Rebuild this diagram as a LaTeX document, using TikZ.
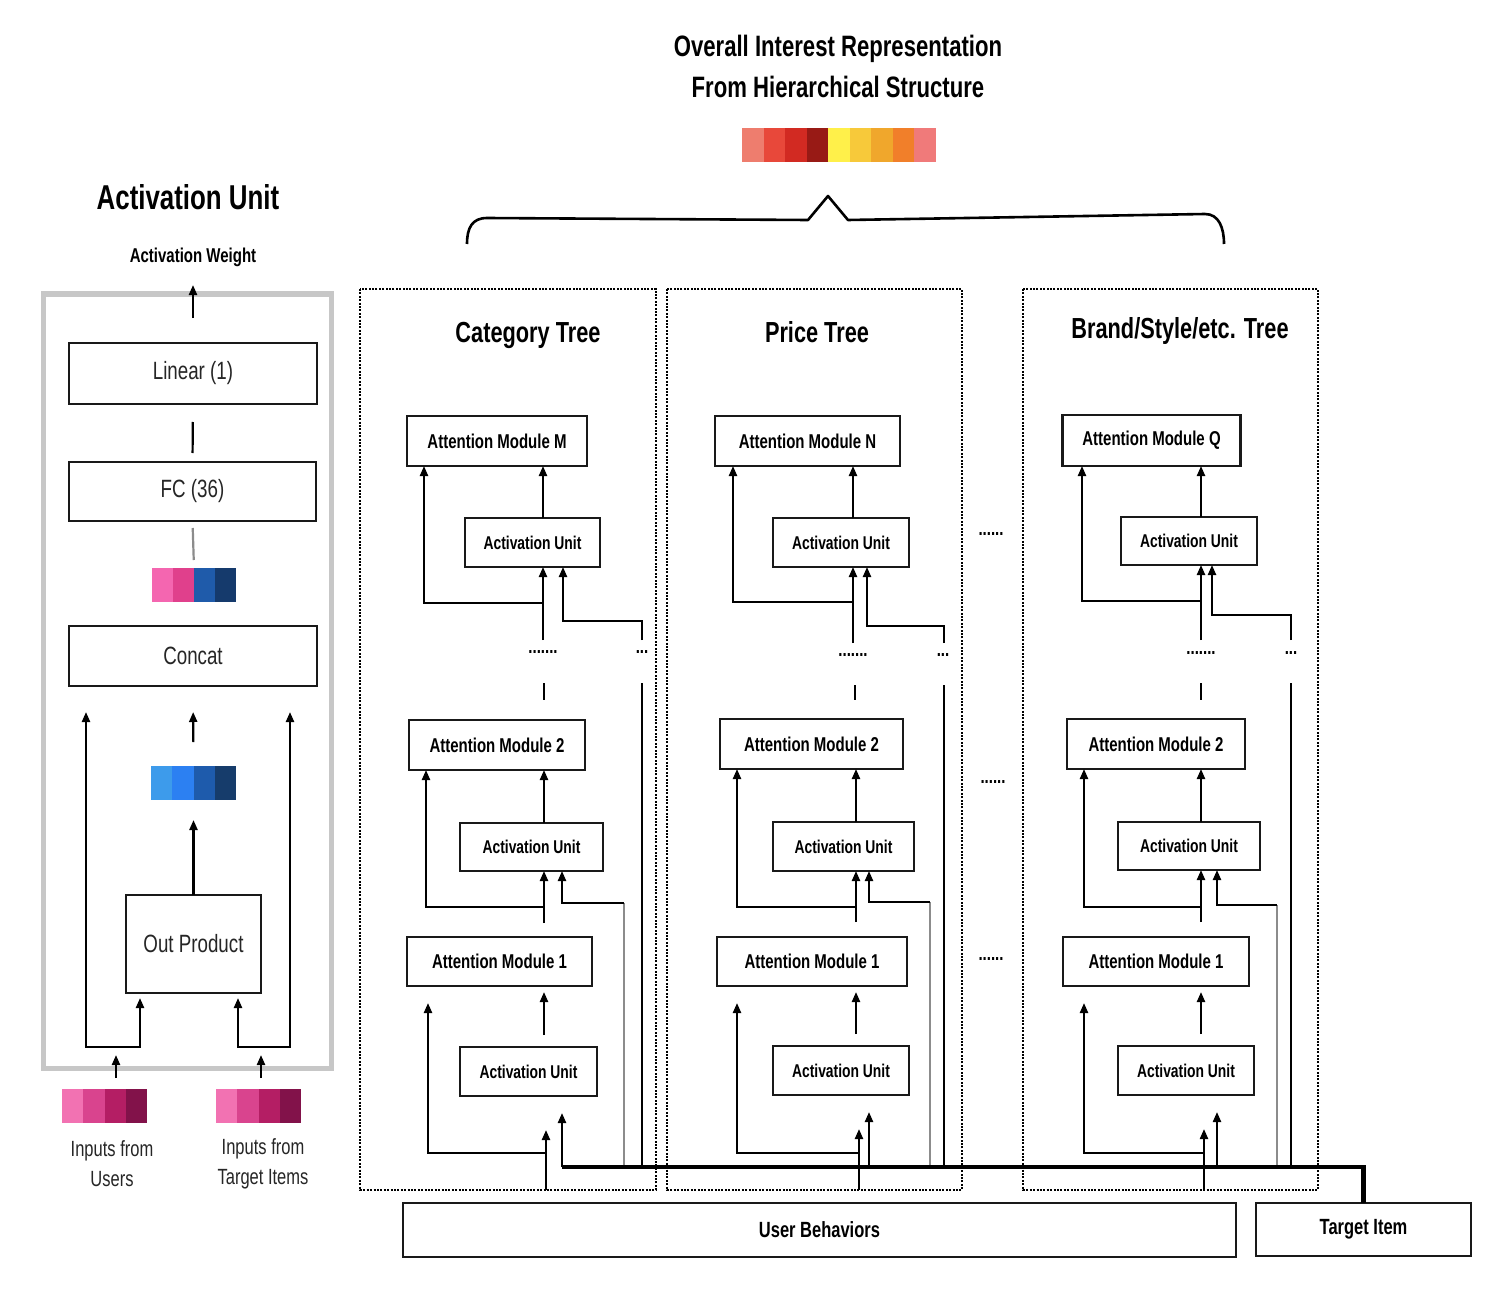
\documentclass[tikz,border=0pt]{standalone}
\usepackage{fontspec}
\setmainfont{Liberation Sans}[FakeStretch=0.75]
\usetikzlibrary{arrows.meta,calc}
\definecolor{t1}{HTML}{EE7D6E}
\definecolor{t2}{HTML}{E8483A}
\definecolor{t3}{HTML}{D22A22}
\definecolor{t4}{HTML}{981A15}
\definecolor{t5}{HTML}{FFF04A}
\definecolor{t6}{HTML}{F7C93A}
\definecolor{t7}{HTML}{F0A72C}
\definecolor{t8}{HTML}{F17F2A}
\definecolor{t9}{HTML}{F07A7A}
\definecolor{a1}{HTML}{F466B0}
\definecolor{a2}{HTML}{E0408C}
\definecolor{a3}{HTML}{1F5BAA}
\definecolor{a4}{HTML}{153A6C}
\definecolor{b1}{HTML}{3D9BEB}
\definecolor{b2}{HTML}{2C80F2}
\definecolor{b3}{HTML}{1E5BAC}
\definecolor{b4}{HTML}{163C6B}
\definecolor{p1}{HTML}{F272B2}
\definecolor{p2}{HTML}{D9448E}
\definecolor{p3}{HTML}{B41E64}
\definecolor{p4}{HTML}{82124A}
\begin{document}
\begin{tikzpicture}[x=1pt,y=-1pt,
  box/.style={draw=black!90, line width=2.6pt, inner sep=0pt, outer sep=0pt, fill=white},
  am/.style={box, font=\bfseries\fontsize{20}{23}\selectfont},
  au/.style={box, font=\bfseries\fontsize{18.5}{21}\selectfont},
  lbox/.style={box, font=\fontsize{25}{28}\selectfont, text=black!85},
  arr/.style={line width=2.2pt, -{Triangle[length=10pt,width=8pt]}},
  ln/.style={line width=2.2pt},
  gln/.style={line width=2.2pt, draw=black!45},
  bus/.style={line width=4.5pt, line join=miter},
  dotbox/.style={line width=2.6pt, dash pattern=on 2pt off 1.4pt},
  ttl/.style={font=\bfseries\fontsize{29}{33}\selectfont, anchor=base},
  dots/.style={font=\bfseries\fontsize{20}{22}\selectfont, inner sep=0pt},
  bar/.style={inner sep=0pt, outer sep=0pt, minimum height=34pt}
]
\fill[white] (0,0) rectangle (1508,1292);
\useasboundingbox (0,0) rectangle (1508,1292);

% ---------------- top ----------------
\node[align=center, font=\bfseries\fontsize{29.5}{41}\selectfont] (title) at (838,66) {Overall Interest Representation\\From Hierarchical Structure};
\node[bar, minimum width=194pt] (topbar) at (839,145) {};
\foreach \c [count=\i from 0] in {t1,t2,t3,t4,t5,t6,t7,t8,t9}
  \fill[\c] ({742+\i*21.55},128) rectangle ({742+(\i+1)*21.55},162);
\draw[line width=2.6pt, line join=round] (467,244) .. controls (467,228) and (472,218) .. (487,218) -- (808,220) -- (828,196) -- (848,220) -- (1205,214) .. controls (1219,214) and (1224,228) .. (1224,244);

% ---------------- left panel ----------------
\node[font=\bfseries\fontsize{34.5}{38}\selectfont, anchor=base] (autitle) at (188,210) {Activation Unit};
\node[font=\bfseries\fontsize{20}{23}\selectfont, anchor=base] (aw) at (193,263) {Activation Weight};
\node[draw=black!22, line width=5pt, minimum width=288pt, minimum height=774pt, inner sep=0pt] (panel) at (187,681) {};
\node[lbox, minimum width=248pt, minimum height=61pt] (lin) at (193,373.5) {Linear (1)};
\node[lbox, minimum width=247pt, minimum height=59pt] (fc) at (192.5,491.5) {FC (36)};
\node[lbox, minimum width=248pt, minimum height=60pt] (concat) at (193,656) {Concat};
\node[lbox, minimum width=135pt, minimum height=98pt] (op) at (193.5,944) {Out Product};

\node[bar, minimum width=84pt] (bar1) at (194,585) {};
\foreach \c [count=\i from 0] in {a1,a2,a3,a4}
  \fill[\c] ({152+\i*21},568) rectangle ({152+(\i+1)*21},602);
\node[bar, minimum width=85pt] (bar2) at (193.5,783) {};
\foreach \c [count=\i from 0] in {b1,b2,b3,b4}
  \fill[\c] ({151+\i*21.25},766) rectangle ({151+(\i+1)*21.25},800);
\node[bar, minimum width=85pt] (ubar) at (104.5,1106) {};
\foreach \c [count=\i from 0] in {p1,p2,p3,p4}
  \fill[\c] ({62+\i*21.25},1089) rectangle ({62+(\i+1)*21.25},1123);
\node[bar, minimum width=85pt] (tbar) at (258.5,1106) {};
\foreach \c [count=\i from 0] in {p1,p2,p3,p4}
  \fill[\c] ({216+\i*21.25},1089) rectangle ({216+(\i+1)*21.25},1123);

\node[align=center, font=\fontsize{22}{30}\selectfont, text=black!85] (ulab) at (112,1164) {Inputs from\\Users};
\node[align=center, font=\fontsize{22}{30}\selectfont, text=black!85] (tlab) at (263,1164) {Inputs from\\Target Items};

\coordinate (awtip) at (193,285);
\draw[arr, shorten <=25pt] (lin.north) -- (awtip);
\draw[ln, shorten <=9pt, shorten >=18pt] (fc.north) -- (lin.south);
\draw[gln, shorten <=7pt, shorten >=8pt] (fc.south) -- (bar1.north);
\draw[arr, shorten <=24pt, shorten >=26pt] (bar2.north) -- (concat.south);
\draw[arr, shorten >=20pt] (op.north) -- (bar2.south);
\coordinate (cl) at (86,712);
\coordinate (cr) at (290,712);
\coordinate (jl) at (140,1047);
\coordinate (jr) at (238,1047);
\draw[line width=2.2pt, {Triangle[length=10pt,width=8pt]}-{Triangle[length=10pt,width=8pt]}, shorten >=5pt] (cl) |- (jl) -- (op.south -| jl);
\draw[line width=2.2pt, {Triangle[length=10pt,width=8pt]}-{Triangle[length=10pt,width=8pt]}, shorten >=5pt] (cr) |- (jr) -- (op.south -| jr);
\coordinate (uin) at (116,1055);
\coordinate (tin) at (261,1055);
\draw[arr, shorten <=11pt] (ubar.north -| uin) -- (uin);
\draw[arr, shorten <=11pt] (tbar.north -| tin) -- (tin);

% ---------------- dotted tree frames ----------------
\draw[dotbox] (360,289) rectangle (656,1190);
\draw[dotbox] (667,289) rectangle (962,1190);
\draw[dotbox] (1023,289) rectangle (1318,1190);
\node[ttl] (c-title) at (528,342) {Category Tree};
\node[ttl] (p-title) at (817,342) {Price Tree};
\node[ttl] (b-title) at (1180,338) {Brand/Style/etc. Tree};

% ---------------- bottom boxes ----------------
\node[box, font=\bfseries\fontsize{22}{25}\selectfont, minimum width=833pt, minimum height=54pt] (ub) at (819.5,1230) {User Behaviors};
\node[box, font=\bfseries\fontsize{22}{25}\selectfont, minimum width=215pt, minimum height=53pt] (ti) at (1363.5,1229.5) {Target Item};

% ---------------- Category tree ----------------
\node[am, minimum width=180pt, minimum height=50pt] (c-amT) at (497,441) {Attention Module M};
\node[au, minimum width=135pt, minimum height=49pt] (c-auT) at (532.5,542.5) {Activation Unit};
\node[am, minimum width=176pt, minimum height=50pt] (c-am2) at (497,745) {Attention Module 2};
\node[au, minimum width=143pt, minimum height=48pt] (c-au2) at (531.5,847) {Activation Unit};
\node[am, minimum width=185pt, minimum height=49pt] (c-am1) at (499.5,961.5) {Attention Module 1};
\node[au, minimum width=137pt, minimum height=49pt] (c-au1) at (528.5,1071.5) {Activation Unit};
\node[dots] (c-d1) at (543,652) {.......};
\node[dots] (c-d2) at (642,652) {...};
\coordinate (c-mT) at (543,640);
\coordinate (c-bT) at (543,603);
\coordinate (c-lT) at (424,603);
\coordinate (c-sT) at (563,621);
\coordinate (c-rT) at (642,640);
\coordinate (c-m2a) at (544,683);
\coordinate (c-m2b) at (544,700);
\coordinate (c-r2) at (642,683);
\coordinate (c-rB) at (642,1167);
\coordinate (c-mM) at (544,923);
\coordinate (c-bM) at (544,907);
\coordinate (c-lM) at (426,907);
\coordinate (c-sM) at (562,903);
\coordinate (c-rM) at (624,1167);
\coordinate (c-bB) at (546,1153);
\coordinate (c-lB) at (428,1153);
\coordinate (c-uB) at (546,1190);
\coordinate (c-sB) at (562,1167);

% ---------------- Price tree ----------------
\node[am, minimum width=185pt, minimum height=50pt] (p-amT) at (807.5,441) {Attention Module N};
\node[au, minimum width=136pt, minimum height=49pt] (p-auT) at (841,542.5) {Activation Unit};
\node[am, minimum width=183pt, minimum height=50pt] (p-am2) at (811.5,744) {Attention Module 2};
\node[au, minimum width=141pt, minimum height=49pt] (p-au2) at (843.5,846.5) {Activation Unit};
\node[am, minimum width=190pt, minimum height=49pt] (p-am1) at (812,961.5) {Attention Module 1};
\node[au, minimum width=136pt, minimum height=49pt] (p-au1) at (841,1070.5) {Activation Unit};
\node[dots] (p-d1) at (853,655) {.......};
\node[dots] (p-d2) at (943,655) {...};
\coordinate (p-mT) at (853,643);
\coordinate (p-bT) at (853,602);
\coordinate (p-lT) at (733,602);
\coordinate (p-sT) at (867,626);
\coordinate (p-rT) at (944,643);
\coordinate (p-m2a) at (855,685);
\coordinate (p-m2b) at (855,700);
\coordinate (p-r2) at (944,685);
\coordinate (p-rB) at (944,1167);
\coordinate (p-mM) at (856,922);
\coordinate (p-bM) at (856,907);
\coordinate (p-lM) at (737,907);
\coordinate (p-sM) at (869,902);
\coordinate (p-rM) at (930,1167);
\coordinate (p-bB) at (859,1153);
\coordinate (p-lB) at (737,1153);
\coordinate (p-uB) at (859,1190);
\coordinate (p-sB) at (869,1167);

% ---------------- Brand tree ----------------
\node[am, minimum width=178pt, minimum height=51pt] (b-amT) at (1151.5,440.5) {Attention Module Q};
\node[au, minimum width=136pt, minimum height=48pt] (b-auT) at (1189,541) {Activation Unit};
\node[am, minimum width=178pt, minimum height=50pt] (b-am2) at (1156,744) {Attention Module 2};
\node[au, minimum width=142pt, minimum height=48pt] (b-au2) at (1189,846) {Activation Unit};
\node[am, minimum width=186pt, minimum height=49pt] (b-am1) at (1156,961.5) {Attention Module 1};
\node[au, minimum width=136pt, minimum height=49pt] (b-au1) at (1186,1070.5) {Activation Unit};
\node[dots] (b-d1) at (1201,653) {.......};
\node[dots] (b-d2) at (1291,653) {...};
\coordinate (b-mT) at (1201,640);
\coordinate (b-bT) at (1201,601);
\coordinate (b-lT) at (1082,601);
\coordinate (b-sT) at (1212,615);
\coordinate (b-rT) at (1291,640);
\coordinate (b-m2a) at (1201,683);
\coordinate (b-m2b) at (1201,700);
\coordinate (b-r2) at (1291,683);
\coordinate (b-rB) at (1291,1167);
\coordinate (b-mM) at (1201,922);
\coordinate (b-bM) at (1201,907);
\coordinate (b-lM) at (1084,907);
\coordinate (b-sM) at (1217,905);
\coordinate (b-rM) at (1277,1167);
\coordinate (b-bB) at (1204,1153);
\coordinate (b-lB) at (1084,1153);
\coordinate (b-uB) at (1204,1190);
\coordinate (b-sB) at (1217,1167);

% ---------------- between trees ----------------
\node[dots] (g1) at (991,534) {......};
\node[dots] (g2) at (993,782) {......};
\node[dots] (g3) at (991,959) {......};

% ---------------- tree connectors ----------------
\foreach \t in {c,p,b} {
  % top level
  \draw[arr] (\t-auT.north -| \t-mT) -- (\t-amT.south -| \t-mT);
  \draw[arr] (\t-mT) -- (\t-auT.south -| \t-mT);
  \draw[arr] (\t-bT) -| (\t-amT.south -| \t-lT);
  \draw[arr] (\t-rT) |- (\t-sT) -- (\t-auT.south -| \t-sT);
  \draw[ln] (\t-m2a) -- (\t-m2b);
  \draw[ln] (\t-r2) -- (\t-rB);
  % middle level
  \draw[arr] (\t-au2.north -| \t-mM) -- (\t-am2.south -| \t-mM);
  \draw[arr] (\t-mM) -- (\t-au2.south -| \t-mM);
  \draw[arr] (\t-bM) -| (\t-am2.south -| \t-lM);
  \draw[gln] (\t-rM) -- (\t-rM |- \t-sM);
  \draw[arr] (\t-rM |- \t-sM) -- (\t-sM) -- (\t-au2.south -| \t-sM);
  % bottom level
  \draw[arr, shorten <=12pt, shorten >=6pt] (\t-au1.north -| \t-mM) -- (\t-am1.south -| \t-mM);
  \draw[arr, shorten >=17pt] (\t-bB) -| (\t-am1.south -| \t-lB);
  \draw[arr, shorten >=34pt] (\t-uB) -- (\t-au1.south -| \t-uB);
  \draw[arr, shorten >=17pt] (\t-sB) -- (\t-au1.south -| \t-sB);
}
% bus from target item
\draw[bus] (c-sB) -| (ti.north);
\end{tikzpicture}
\end{document}
